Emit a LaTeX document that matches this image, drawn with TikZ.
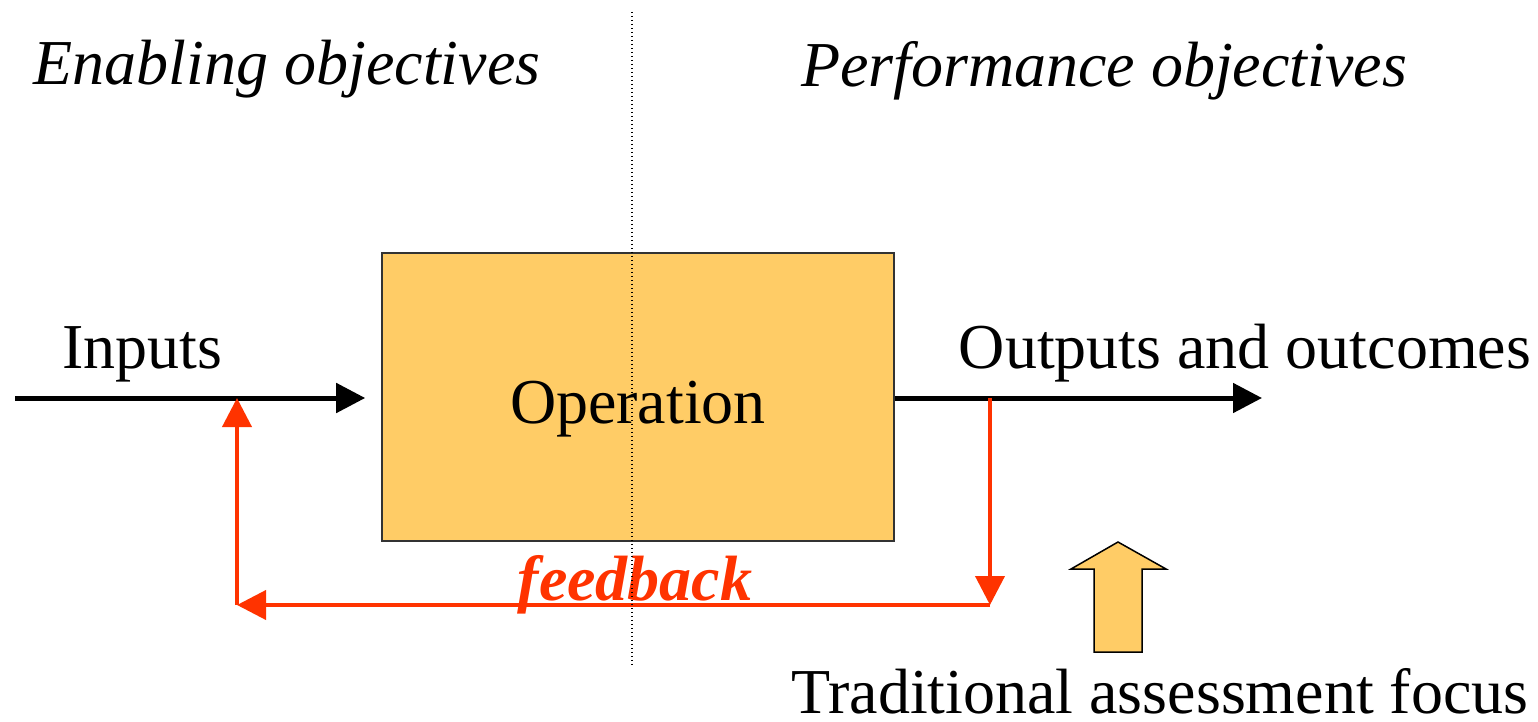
\documentclass[tikz,border=0pt]{standalone}
\usepackage{fontspec}
\setmainfont{Liberation Serif}
\usetikzlibrary{arrows.meta}

\definecolor{opfill}{HTML}{FFCC66}
\definecolor{fbred}{HTML}{FF3300}

\tikzset{
  flow/.style={line width=2.5pt, -{Triangle[length=14.5pt,width=14.5pt]}},
  fback/.style={draw=fbred, line width=2pt, -{Triangle[length=14.5pt,width=14.5pt]}},
  lbl/.style={font=\fontsize{32}{38}\selectfont, inner sep=0pt, anchor=base},
}

\begin{document}
\begin{tikzpicture}[x=0.5pt,y=-0.5pt]
\useasboundingbox (0,0) rectangle (1538,722);

    \node (op) at (638,397) [draw=black!80, line width=0.8pt, fill=opfill, minimum width=256pt, minimum height=144pt] {};
    \node (optext) at (638,423) [lbl] {Operation};

    \coordinate (in) at (15,398);
    \coordinate (out) at (1262,398);
    \coordinate (tap) at (990,398);
    \coordinate (fbr) at (990,605);
    \coordinate (fbl) at (237,605);
    \coordinate (join) at (237,398);

    \draw[flow] (in) -- ([xshift=-8pt]op.west |- in);
    \draw[flow] (op.east |- out) -- (out);

    
    \draw[fback] (tap) -- (fbr);
    \draw[fback] (fbr) -- (fbl);
    \draw[fback] (fbl) -- (join);

    \draw[fill=opfill, line width=0.75pt] (1071,569) -- (1118,542) -- (1166,569) -- (1142,569)
        -- (1142,652) -- (1094,652) -- (1094,569) -- cycle;

    \node (inputs) at (142,368) [lbl] {Inputs};
    \node (outputs) at (1245,368) [lbl] {Outputs and outcomes};
    \node (enabling) at (287,85) [lbl, font=\fontsize{32}{38}\selectfont\itshape] {Enabling objectives};
    \node (perf) at (1104,87) [lbl, font=\fontsize{32}{38}\selectfont\itshape] {Performance objectives};
    \node (fbtext) at (635,600) [lbl, text=fbred, font=\fontsize{32}{38}\selectfont\bfseries\itshape] {feedback};
    \node (trad) at (1160,713) [lbl] {Traditional assessment focus};

    \draw[line width=0.6pt, dash pattern=on 0.7pt off 1.3pt] (632,12) -- (632,667);

\end{tikzpicture}
\end{document}
